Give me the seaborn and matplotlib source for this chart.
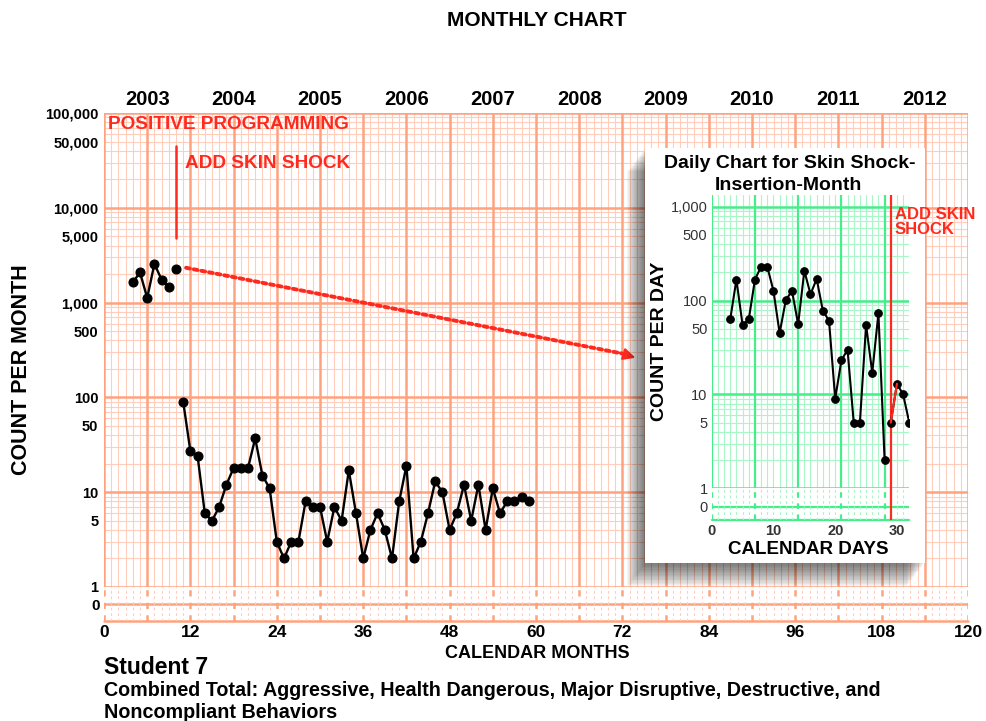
import numpy as np
import pandas as pd
import matplotlib
matplotlib.use("Agg")
import matplotlib.pyplot as plt
import seaborn as sns
from matplotlib.patches import Rectangle

# ---------------- data ----------------
pre_months = [4, 5, 6, 7, 8, 9]
pre_counts = [1635, 2080, 1120, 2560, 1745, 1460]
insert_month = [10]
insert_count = [2260]
post_months = list(range(11, 60))
post_counts = [90, 27, 24, 6, 5, 7, 12, 18, 18, 18, 37, 15, 11, 3, 2, 3, 3, 8, 7, 7,
               3, 7, 5, 17, 6, 2, 4, 6, 4, 2, 8, 19, 2, 3, 6, 13, 10, 4, 6, 12,
               5, 12, 4, 11, 6, 8, 8, 9, 8]

month_ticks = list(range(0, 121, 12))
year_positions = list(range(6, 120, 12))
year_labels = [str(y) for y in range(2003, 2013)]
y_tick_values = [1, 5, 10, 50, 100, 500, 1000, 5000, 10000, 50000, 100000]
y_tick_labels = ["1", "5", "10", "50", "100", "500", "1,000", "5,000", "10,000", "50,000", "100,000"]

base_days = list(range(3, 29))
base_daily = [63, 167, 55, 63, 167, 230, 230, 127, 45, 101, 127, 56, 208, 117, 170,
              78, 61, 9, 23, 30, 5, 5, 55, 17, 73, 2]
shock_days = [29, 30, 31, 32]
shock_daily = [5, 13, 10, 5]
day_ticks = [0, 10, 20, 30]
inset_y_values = [1, 5, 10, 50, 100, 500, 1000]
inset_y_labels = ["1", "5", "10", "50", "100", "500", "1,000"]

# ---------------- style ----------------
sns.set_theme(style="white")
plt.rcParams["font.family"] = ["Liberation Sans", "DejaVu Sans"]
for k in ("text.color", "axes.labelcolor", "xtick.color", "ytick.color"):
    plt.rcParams[k] = "black"
RED = "#ff2a1f"
OR_MAJ = "#ffa27e"
OR_MIN = "#ffcdb9"
GR_MAJ = "#45ee8a"
GR_MIN = "#a9f7c8"

W, H = 987, 721
fig = plt.figure(figsize=(W / 100, H / 100), dpi=100)


def fx(x):
    return x / W


def fy(y):
    return 1 - y / H


def log_grid(ax, lo_dec, hi_dec, cmaj, cmin):
    for d in range(lo_dec, hi_dec + 1):
        ax.axhline(10 ** d, color=cmaj, lw=1.8, zorder=0.5)
    for d in range(lo_dec, hi_dec):
        for m in range(2, 10):
            ax.axhline(m * 10 ** d, color=cmin, lw=0.8, zorder=0.4)


# ---------------- main axes ----------------
ax = fig.add_axes([fx(104), fy(587), fx(968) - fx(104), fy(113) - fy(587)])
ax.set_yscale("log")
ax.set_xlim(0, 120)
ax.set_ylim(1, 100000)
log_grid(ax, 0, 5, OR_MAJ, OR_MIN)
for m in range(0, 121):
    ax.axvline(m, color=OR_MAJ if m % 6 == 0 else OR_MIN,
               lw=1.8 if m % 6 == 0 else 0.8, zorder=0.4 if m % 6 else 0.5)
for s in ax.spines.values():
    s.set_visible(False)
ax.set_yticks(y_tick_values)
ax.set_yticklabels(y_tick_labels, fontweight="bold", fontsize=10.5)
ax.yaxis.set_minor_locator(matplotlib.ticker.NullLocator())
ax.set_xticks([])
ax.tick_params(axis="y", length=0, pad=4)
ax.set_facecolor("white")

df_pre = pd.DataFrame({"month": pre_months, "count": pre_counts})
df_ins = pd.DataFrame({"month": insert_month, "count": insert_count})
df_post = pd.DataFrame({"month": post_months, "count": post_counts})
for d in (df_pre, df_ins, df_post):
    sns.lineplot(data=d, x="month", y="count", ax=ax, color="black", lw=1.7,
                 marker="o", markersize=6.5, markeredgecolor="black",
                 estimator=None, zorder=5)
ax.set_xlabel("")
ax.set_ylabel("")

# phase line and labels
ax.plot([10, 10], [4800, 45000], color=RED, lw=1.8, zorder=4)
ax.text(0.6, 76000, "POSITIVE PROGRAMMING", color=RED, fontweight="bold",
        fontsize=13.7, va="center", ha="left", zorder=6)
ax.text(11.3, 29000, "ADD SKIN SHOCK", color=RED, fontweight="bold",
        fontsize=13.7, va="center", ha="left", zorder=6)
ax.annotate("", xy=(72.0, 290), xytext=(11.4, 2330),
            arrowprops=dict(arrowstyle="-", color=RED, lw=2.8,
                            linestyle=(0, (1.0, 1.0)),
                            shrinkA=0, shrinkB=0), zorder=6)
ax.annotate("", xy=(73.8, 262), xytext=(71.5, 297),
            arrowprops=dict(arrowstyle="-|>", color=RED, lw=1.5,
                            mutation_scale=18, shrinkA=0, shrinkB=0), zorder=6)

sec = ax.secondary_xaxis("top")
sec.set_xticks(year_positions)
sec.set_xticklabels(year_labels, fontweight="bold", fontsize=14.5)
sec.tick_params(length=0, pad=3)
for s in sec.spines.values():
    s.set_visible(False)

# zero band
axb = fig.add_axes([fx(104), fy(621), fx(968) - fx(104), fy(587) - fy(621)])
axb.set_xlim(0, 120)
axb.set_ylim(-1, 1)
axb.axhline(0, color=OR_MAJ, lw=1.8)
axb.axhline(-1, color=OR_MAJ, lw=1.8, clip_on=False)
for m in range(0, 121):
    axb.axvline(m, color=OR_MAJ if m % 6 == 0 else OR_MIN,
                lw=1.8 if m % 6 == 0 else 0.8, ls=(0, (2.5, 2.5)))
for s in axb.spines.values():
    s.set_visible(False)
axb.set_yticks([0])
axb.set_yticklabels(["0"], fontweight="bold", fontsize=11)
axb.set_xticks(month_ticks)
axb.set_xticklabels([str(t) for t in month_ticks], fontweight="bold", fontsize=12.5)
axb.tick_params(length=0, pad=3)
axb.set_facecolor("white")

# ---------------- shadow + white box ----------------
BL, BR, BT, BB = 645, 925, 148, 563
for i in range(1, 19):
    fig.add_artist(Rectangle((fx(BL - 1.0 * i), fy(BB + 1.3 * i)),
                             fx(BR) - fx(BL), fy(BT) - fy(BB),
                             transform=fig.transFigure, facecolor="black",
                             edgecolor="none", alpha=0.035, zorder=1))
fig.add_artist(Rectangle((fx(BL), fy(BB)), fx(BR) - fx(BL), fy(BT) - fy(BB),
                         transform=fig.transFigure, facecolor="white",
                         edgecolor="none", zorder=2))

# ---------------- inset ----------------
axi = fig.add_axes([fx(711.7), fy(488.3), fx(909.3) - fx(711.7), fy(195) - fy(488.3)])
axi.set_zorder(3)
axi.set_yscale("log")
axi.set_xlim(0, 32)
axi.set_ylim(1, 1333)
log_grid(axi, 0, 3, GR_MAJ, GR_MIN)
for dd in range(0, 33):
    axi.axvline(dd, color=GR_MAJ if dd % 7 == 0 else GR_MIN,
                lw=1.6 if dd % 7 == 0 else 0.8, zorder=0.4)
for s in axi.spines.values():
    s.set_visible(False)
axi.set_facecolor("white")
axi.set_yticks(inset_y_values)
axi.set_yticklabels(inset_y_labels, fontsize=10.5, color="#333333")
axi.yaxis.set_minor_locator(matplotlib.ticker.NullLocator())
axi.set_xticks([])
axi.tick_params(axis="y", length=0, pad=3)

df_b = pd.DataFrame({"day": base_days, "count": base_daily})
df_s = pd.DataFrame({"day": shock_days, "count": shock_daily})
for d in (df_b, df_s):
    sns.lineplot(data=d, x="day", y="count", ax=axi, color="black", lw=1.5,
                 marker="o", markersize=5.5, markeredgecolor="black",
                 estimator=None, zorder=5)
axi.plot(shock_days[:2], shock_daily[:2], color=RED, lw=1.5, zorder=5.5)
axi.set_xlabel("")
axi.set_ylabel("")
axi.plot([29, 29], [1, 1333], color=RED, lw=1.6, zorder=4)
fig.text(fx(895), fy(222), "ADD SKIN\nSHOCK", color=RED, fontweight="bold",
         fontsize=12, va="center", ha="left", linespacing=1.05, zorder=6)

axib = fig.add_axes([fx(711.7), fy(520), fx(909.3) - fx(711.7), fy(488.3) - fy(520)])
axib.set_zorder(3)
axib.set_xlim(0, 32)
axib.set_ylim(-0.72, 1)
axib.axhline(0, color=GR_MAJ, lw=1.6)
axib.axhline(-0.72, color=GR_MAJ, lw=1.6, clip_on=False)
for dd in range(0, 33):
    axib.axvline(dd, color=GR_MAJ if dd % 7 == 0 else GR_MIN,
                 lw=1.6 if dd % 7 == 0 else 0.8, ls=(0, (2.5, 2.5)))
axib.plot([29, 29], [-0.72, 1], color=RED, lw=1.6)
for s in axib.spines.values():
    s.set_visible(False)
axib.set_facecolor("white")
axib.set_yticks([0])
axib.set_yticklabels(["0"], fontsize=10.5, color="#333333")
axib.set_xticks(day_ticks)
axib.set_xticklabels([str(t) for t in day_ticks], fontsize=10.5, fontweight="bold",
                     color="#333333")
axib.tick_params(length=0, pad=3)

# ---------------- texts ----------------
fig.text(fx(537), fy(20), "MONTHLY CHART", ha="center", va="center",
         fontweight="bold", fontsize=15)
fig.text(fx(22), fy(370), "COUNT PER MONTH", ha="center", va="center",
         rotation=90, fontweight="bold", fontsize=15.5)
fig.text(fx(537), fy(653), "CALENDAR MONTHS", ha="center", va="center",
         fontweight="bold", fontsize=13)
fig.text(fx(104), fy(667), "Student 7", ha="left", va="center",
         fontweight="bold", fontsize=16.5)
fig.text(fx(104), fy(691),
         "Combined Total: Aggressive, Health Dangerous, Major Disruptive, Destructive, and",
         ha="left", va="center", fontweight="bold", fontsize=14.2)
fig.text(fx(104), fy(712), "Noncompliant Behaviors", ha="left", va="center",
         fontweight="bold", fontsize=14.2)

fig.text(fx(790), fy(164), "Daily Chart for Skin Shock-", ha="center", va="center",
         fontweight="bold", fontsize=14, zorder=4)
fig.text(fx(788), fy(185), "Insertion-Month", ha="center", va="center",
         fontweight="bold", fontsize=14, zorder=4)
fig.text(fx(659), fy(341), "COUNT PER DAY", ha="center", va="center",
         rotation=90, fontweight="bold", fontsize=14, zorder=4)
fig.text(fx(808), fy(550), "CALENDAR DAYS", ha="center", va="center",
         fontweight="bold", fontsize=13.5, zorder=4)

fig.savefig("out.png", dpi=100)
